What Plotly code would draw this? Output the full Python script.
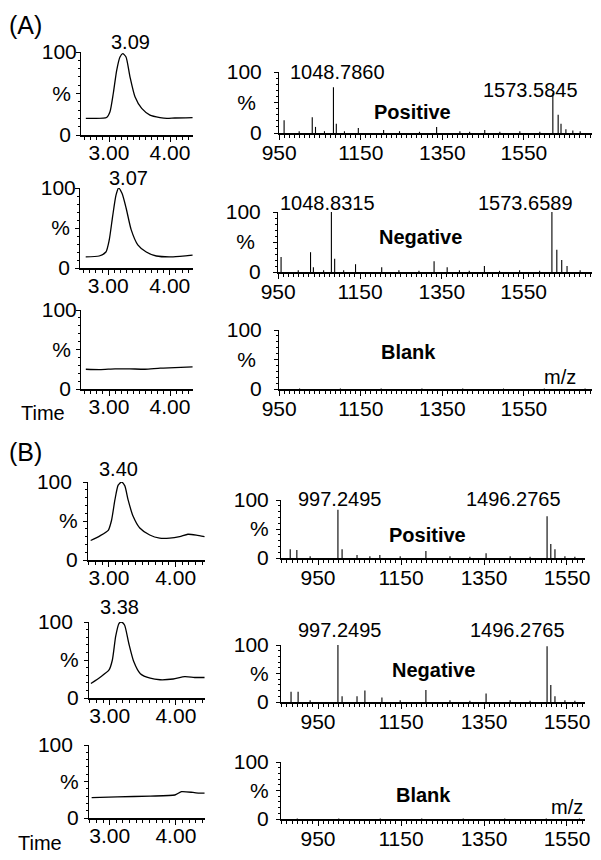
import plotly.graph_objects as go

# the page body adds an 8px margin, so the figure is drawn 8px smaller
# and all pixel positions are measured on the 601x860 window minus 8
OFF = 8
W, H = 601 - OFF, 860 - OFF

# ---------------- data ----------------
# Chromatograms (time, % intensity)
a1_t = [2.62, 2.75, 2.96, 3.016, 3.07, 3.126, 3.18, 3.225, 3.279, 3.344, 3.426, 3.536, 3.672, 3.836, 3.95, 4.08, 4.37]
a1_i = [20, 20, 21, 28, 50, 78, 94, 98, 94, 70, 46, 32, 24, 21, 20, 20.5, 21]
a2_t = [2.634, 2.852, 2.962, 3.016, 3.07, 3.126, 3.169, 3.225, 3.29, 3.372, 3.48, 3.618, 3.782, 4.054, 4.37]
a2_i = [14, 15, 20, 35, 64, 91, 100, 93, 75, 48, 29, 20, 15, 14, 16]
a3_t = [2.62, 2.85, 3.10, 3.34, 3.59, 3.84, 4.08, 4.37]
a3_i = [25, 24.5, 25.5, 25.5, 25, 26.5, 27, 28]

b1_t = [2.727, 2.866, 2.99, 3.04, 3.09, 3.139, 3.19, 3.239, 3.288, 3.363, 3.463, 3.612, 3.761, 3.91, 4.06, 4.184, 4.309, 4.433]
b1_i = [25, 31, 38, 51, 77, 96, 100, 95, 77, 56, 41, 32, 28, 28, 30, 33, 32, 30]
b2_t = [2.716, 2.866, 2.99, 3.04, 3.09, 3.139, 3.175, 3.224, 3.288, 3.363, 3.463, 3.612, 3.761, 3.96, 4.134, 4.284, 4.433]
b2_i = [19, 28, 37, 50, 81, 98, 100, 96, 72, 48, 32, 26, 24, 25, 28, 27, 27]
b3_t = [2.727, 3.115, 3.612, 3.985, 4.085, 4.258, 4.358, 4.433]
b3_i = [28, 29, 30, 31.5, 36, 35, 34, 34]

# Mass spectra (m/z, % intensity)
a1_mz = [962, 999, 1031, 1039, 1061, 1083, 1090, 1110, 1144, 1206, 1245, 1294, 1336, 1393, 1417, 1454, 1491, 1540, 1589, 1621, 1634, 1641, 1653, 1670, 1688]
a1_int = [21, 3, 26, 10, 3, 75, 15, 3, 8, 5, 3, 2, 10, 3, 2, 5, 2, 3, 2, 65, 30, 15, 6, 4, 3]
a2_mz = [957, 999, 1029, 1036, 1061, 1080, 1088, 1110, 1139, 1203, 1245, 1294, 1331, 1363, 1393, 1417, 1454, 1491, 1540, 1589, 1619, 1631, 1643, 1656, 1688]
a2_int = [25, 3, 33, 8, 3, 100, 22, 3, 13, 8, 3, 2, 18, 8, 3, 2, 10, 2, 3, 2, 100, 37, 20, 10, 3]
a3_mz = [1000, 1100, 1200, 1300, 1400, 1500, 1600, 1700]
a3_int = [0.8, 0.8, 0.8, 0.8, 0.8, 0.8, 0.8, 0.8]

b1_mz = [883, 899, 931, 998, 1008, 1044, 1075, 1099, 1148, 1210, 1268, 1316, 1355, 1413, 1461, 1502, 1511, 1521, 1545, 1569]
b1_int = [15, 14, 3, 83, 15, 5, 3, 5, 3, 12, 3, 2, 8, 3, 2, 72, 24, 15, 3, 2]
b2_mz = [885, 902, 931, 998, 1008, 1044, 1063, 1104, 1148, 1210, 1268, 1316, 1355, 1413, 1461, 1502, 1511, 1521, 1545, 1569]
b2_int = [18, 18, 3, 100, 10, 10, 20, 8, 3, 21, 3, 2, 15, 3, 2, 98, 30, 10, 3, 2]
b3_mz = [900, 1000, 1100, 1200, 1300, 1400, 1500, 1580]
b3_int = [0.8, 0.8, 0.8, 0.8, 0.8, 0.8, 0.8, 0.8]

chrom_ticks = [3.0, 4.0]
chrom_ticktext = ["3.00", "4.00"]
ms_ticks = [950, 1150, 1350, 1550]
ms_ticktext = ["950", "1150", "1350", "1550"]
y_ticks = [0, 50, 100]
NB = "\u00a0"
# y tick label variants (padding mimics the reference's label placement)
y_text_ac = ["0" + NB, "%" + NB, "100"]
y_text_am = ["0", "%" + NB, "100"]
y_text_bc = ["0", "%", "100" + NB]
y_text_bm = ["0", "%", "100"]

# ---------------- layout helpers ----------------
FONT = "Liberation Sans, Arial, sans-serif"
TICKFONT = dict(family=FONT, size=21, color="black")


def xd(x0, x1):
    return [(x0 - OFF) / W, (x1 - OFF) / W]


def yd(ytop, ybot):
    return [1 - (ybot - OFF) / H, 1 - (ytop - OFF) / H]


# panel definitions: (kind, xs, ys, xpix, ypix, xrange, ytext, ystandoff)
panels = [
    ("c", a1_t, a1_i, (81, 193), (52, 135), [2.541, 4.377], y_text_ac, -5),
    ("m", a1_mz, a1_int, (279, 592), (72, 133), [949.5, 1717], y_text_am, 8),
    ("c", a2_t, a2_i, (80, 193), (188, 268), [2.541, 4.377], y_text_ac, -5),
    ("m", a2_mz, a2_int, (278, 592), (212, 272), [949.5, 1717], y_text_am, 8),
    ("c", a3_t, a3_i, (81, 193), (310, 389), [2.541, 4.377], y_text_ac, -5),
    ("m", a3_mz, a3_int, (279, 592), (330, 389), [949.5, 1717], y_text_am, 8),
    ("c", b1_t, b1_i, (88, 205), (482, 560), [2.687, 4.44], y_text_bc, 1),
    ("m", b1_mz, b1_int, (281, 585), (500, 558), [860.8, 1593.4], y_text_bm, 3),
    ("c", b2_t, b2_i, (89, 205), (622, 698), [2.687, 4.44], y_text_bc, 1),
    ("m", b2_mz, b2_int, (281, 585), (645, 702), [860.8, 1593.4], y_text_bm, 3),
    ("c", b3_t, b3_i, (89, 205), (745, 818), [2.687, 4.44], y_text_bc, 1),
    ("m", b3_mz, b3_int, (281, 585), (762, 819), [860.8, 1593.4], y_text_bm, 3),
]

fig = go.Figure()
layout = dict(
    template="none",
    width=W, height=H, autosize=False,
    margin=dict(l=0, r=0, t=0, b=0, pad=0),
    paper_bgcolor="white", plot_bgcolor="white",
    showlegend=False,
    font=dict(family=FONT, color="black"),
)

for k, (kind, xs, ys, xpix, ypix, xr, ytext, ystand) in enumerate(panels):
    n = k + 1
    xa = "x" if n == 1 else f"x{n}"
    ya = "y" if n == 1 else f"y{n}"
    if kind == "c":
        fig.add_trace(go.Scatter(
            x=xs, y=ys, mode="lines", xaxis=xa, yaxis=ya,
            line=dict(color="black", width=1.3, shape="spline", smoothing=0.6),
            hoverinfo="skip"))
        xaxis = dict(
            tickmode="array", tickvals=chrom_ticks, ticktext=chrom_ticktext,
            minor=dict(tickmode="linear", tick0=0, dtick=0.1, ticks="outside",
                       ticklen=3, tickcolor="black", tickwidth=1),
            ticklabelstandoff=-7, linewidth=1.5)
    else:
        px_, py_ = [], []
        for m, v in zip(xs, ys):
            px_ += [m, m, None]
            py_ += [0, v, None]
        fig.add_trace(go.Scatter(
            x=px_, y=py_, mode="lines", xaxis=xa, yaxis=ya,
            line=dict(color="black", width=1.1), hoverinfo="skip"))
        xaxis = dict(
            tickmode="array", tickvals=ms_ticks, ticktext=ms_ticktext,
            minor=dict(tickmode="linear", tick0=0, dtick=12.5, ticks="outside",
                       ticklen=3, tickcolor="black", tickwidth=1),
            ticklabelstandoff=-5, linewidth=2.2)
    xaxis.update(
        domain=xd(*xpix), range=xr, anchor=ya, automargin=False,
        showline=True, linecolor="black", mirror=False,
        ticks="outside", ticklen=5, tickcolor="black", tickwidth=1,
        showgrid=False, zeroline=False, tickfont=TICKFONT, fixedrange=True)
    yaxis = dict(
        domain=yd(*ypix), range=[0, 100], anchor=xa, automargin=False,
        tickmode="array", tickvals=y_ticks, ticktext=ytext,
        showline=True, linecolor="black", linewidth=1, mirror=False,
        ticks="outside", ticklen=4, tickcolor="black", tickwidth=1,
        minor=dict(tickmode="linear", tick0=0, dtick=10, ticks="outside",
                   ticklen=2, tickcolor="black", tickwidth=1),
        showgrid=False, zeroline=False, tickfont=TICKFONT,
        ticklabelstandoff=ystand, fixedrange=True)
    layout["xaxis" if n == 1 else f"xaxis{n}"] = xaxis
    layout["yaxis" if n == 1 else f"yaxis{n}"] = yaxis


def ann(text, x, y, size=20, bold=False):
    t = f"<b>{text}</b>" if bold else text
    return dict(text=t, x=(x - OFF) / W, y=1 - (y - OFF) / H,
                xref="paper", yref="paper",
                xanchor="center", yanchor="middle", showarrow=False,
                font=dict(family=FONT, size=size, color="black"))


annotations = [
    ann("(A)", 25, 25, size=25),
    ann("(B)", 25, 452, size=25),
    ann("3.09", 130, 42), ann("3.07", 128, 178),
    ann("3.40", 118, 469), ann("3.38", 119, 607),
    ann("Time", 43, 413), ann("Time", 40, 843),
    ann("1048.7860", 337, 72), ann("1573.5845", 530, 90),
    ann("Positive", 412, 112, size=20, bold=True),
    ann("1048.8315", 327, 203), ann("1573.6589", 525, 203),
    ann("Negative", 420, 237, size=20, bold=True),
    ann("Blank", 408, 352, size=20, bold=True), ann("m/z", 560, 377),
    ann("997.2495", 340, 499), ann("1496.2765", 513, 499),
    ann("Positive", 427, 535, size=20, bold=True),
    ann("997.2495", 340, 630), ann("1496.2765", 517, 630),
    ann("Negative", 433, 670, size=20, bold=True),
    ann("Blank", 423, 795, size=20, bold=True), ann("m/z", 567, 807),
]
layout["annotations"] = annotations
fig.update_layout(**layout)
fig.write_html("out.html")
